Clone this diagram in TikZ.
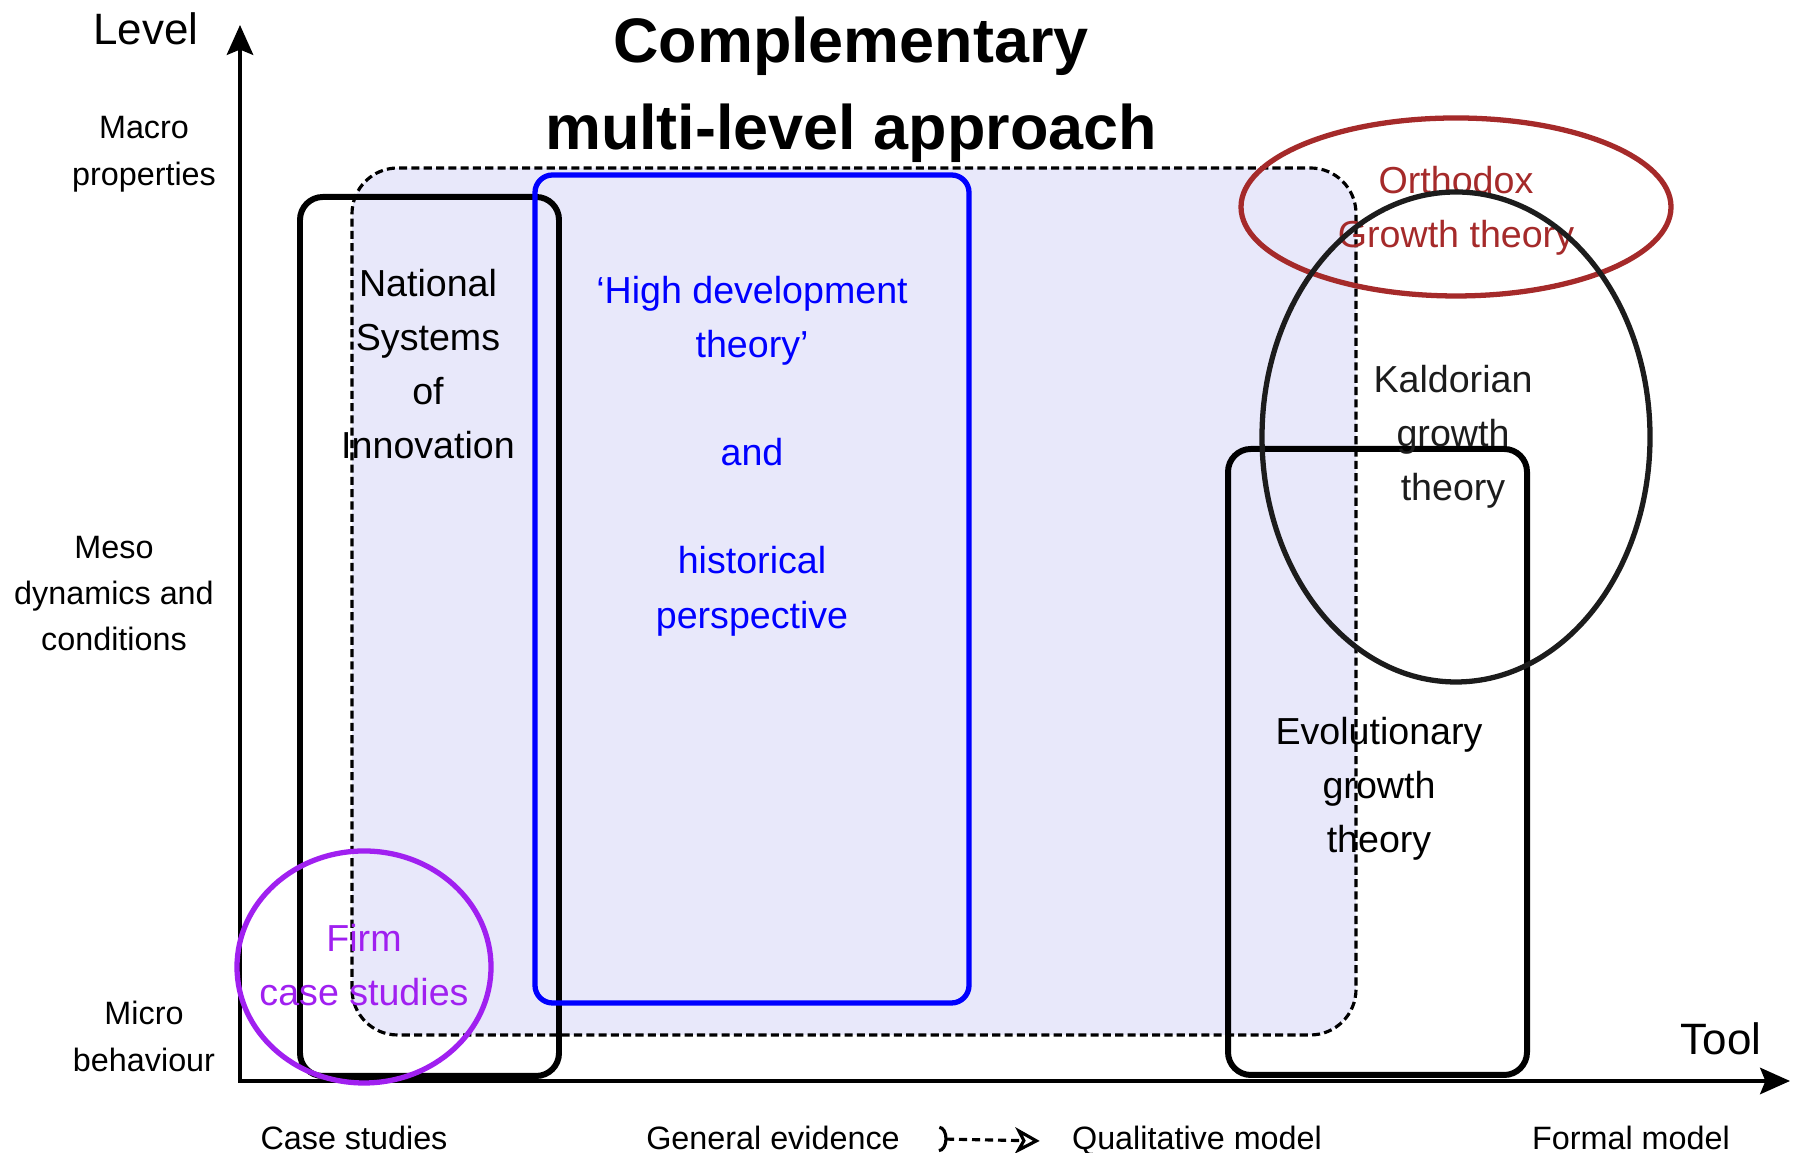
\documentclass[tikz,border=0pt]{standalone}
\usepackage{fontspec}
\setmainfont{Liberation Sans}
\usepackage{tikz}
\usetikzlibrary{arrows.meta,positioning}
\definecolor{regionFill}{RGB}{232,232,250}
\definecolor{orthodoxRed}{RGB}{165,42,42}
\definecolor{firmPurple}{RGB}{160,32,240}
\definecolor{hdtBlue}{RGB}{0,0,255}
\definecolor{kaldorGray}{RGB}{28,28,28}
\tikzset{
  regionbox/.style={
    draw=black, dash pattern=on 2.3pt off 1.2pt, line width=0.9pt,
    fill=regionFill, rounded corners=13pt
  },
  approachbox/.style={draw=black, line width=1.7pt, rounded corners=6.5pt},
  approachoval/.style={line width=1.5pt},
  bodytext/.style={font=\fontsize{10.7}{15.4}\selectfont, align=center},
  axislabel/.style={font=\fontsize{12.5}{15}\selectfont},
  levellabel/.style={font=\fontsize{9.2}{13.4}\selectfont, align=center},
  toollabel/.style={font=\fontsize{9.2}{11}\selectfont, anchor=base},
  axisArrow/.style={line width=1.1pt,
    {Stealth[length=8.5pt,width=7.5pt,inset=1.5pt]}-{Stealth[length=8.5pt,width=7.5pt,inset=1.5pt]}},
  toolArrow/.style={line width=0.9pt, dash pattern=on 2.3pt off 1.4pt,
    {Arc Barb[reversed,length=2.4pt,width=7.5pt]}-{Stealth[open,length=7pt,width=7.5pt,inset=2pt]}}
}

\begin{document}
\begin{tikzpicture}
  \useasboundingbox (0,0) rectangle (17.93,11.53);

  % axes
  \coordinate (origin) at (2.40,0.72);
  \coordinate (levelTip) at (2.40,11.28);
  \coordinate (toolTip) at (17.90,0.72);
  \draw[axisArrow] (levelTip) -- (origin) -- (toolTip);
  \node[axislabel] (level) at (1.46,11.24) {Level};
  \node[axislabel] (tool) at (17.21,1.14) {Tool};

  \node[levellabel] (macro) at (1.44,9.99) {Macro\\properties};
  \node[levellabel, font=\fontsize{9.2}{13.1}\selectfont] (meso) at (1.14,5.59)
    {Meso\\dynamics and\\conditions};
  \node[levellabel] (micro) at (1.44,1.165) {Micro\\behaviour};

  \node[toollabel] (casestudies) at (3.54,0.03) {Case studies};
  \node[toollabel] (genevidence) at (7.73,0.03) {General evidence};
  \node[toollabel] (qualmodel) at (11.97,0.03) {Qualitative model};
  \node[toollabel] (formalmodel) at (16.31,0.03) {Formal model};
  \draw[toolArrow, shorten <=0.27cm, shorten >=0.2cm]
    (genevidence.east) -- (qualmodel.west);

  \node[font=\fontsize{17.9}{24.8}\selectfont\bfseries, align=center] (title)
    at (8.51,10.63) {Complementary\\multi-level approach};

  % approaches
  \draw[regionbox] (3.52,1.18) rectangle (13.56,9.85);
  \draw[approachbox] (3.00,0.77) rectangle (5.59,9.56);
  \draw[approachbox, draw=hdtBlue, line width=1.5pt, rounded corners=5pt]
    (5.35,1.50) rectangle (9.69,9.78);
  \draw[approachbox] (12.28,0.78) rectangle (15.27,7.04);

  \node[bodytext] (nsi) at (4.28,7.89)
    {National\\Systems\\of\\Innovation};
  \node[bodytext, text=hdtBlue] (hdt) at (7.52,6.97)
    {‘High development\\theory’\\[15.4pt]and\\[15.4pt]historical\\perspective};
  \node[bodytext] (evolutionary) at (13.79,3.64)
    {Evolutionary\\growth\\theory};

  \draw[approachoval, draw=orthodoxRed] (14.56,9.46) ellipse [x radius=2.15, y radius=0.89];
  \node[bodytext, text=orthodoxRed] (orthodox) at (14.56,9.42)
    {Orthodox\\Growth theory};

  \draw[approachoval, draw=kaldorGray] (14.56,7.16) ellipse [x radius=1.94, y radius=2.45];
  \node[bodytext, text=kaldorGray] (kaldorian) at (14.53,7.16)
    {Kaldorian\\growth\\theory};

  \draw[approachoval, draw=firmPurple] (3.64,1.86) ellipse [x radius=1.27, y radius=1.16];
  \node[bodytext, text=firmPurple] (firm) at (3.64,1.875)
    {Firm\\case studies};
\end{tikzpicture}
\end{document}
